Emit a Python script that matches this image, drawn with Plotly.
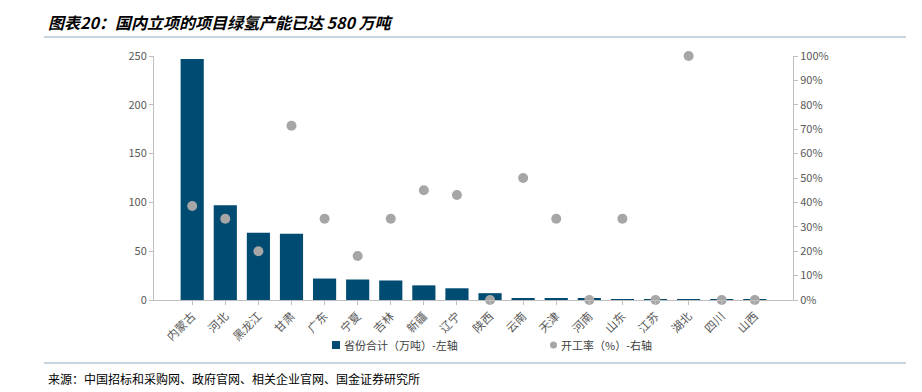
import plotly.graph_objects as go

provinces = ["内蒙古", "河北", "黑龙江", "甘肃", "广东", "宁夏", "吉林", "新疆", "辽宁",
             "陕西", "云南", "天津", "河南", "山东", "江苏", "湖北", "四川", "山西"]
capacity = [247, 97, 69, 68, 22, 21, 20, 15, 12, 7, 2, 2, 1.5, 0.8, 0.6, 0.5, 0.5, 0.5]
rate = [0.385, 0.333, 0.20, 0.714, 0.333, 0.18, 0.333, 0.45, 0.43, 0.0, 0.50, 0.333,
        0.0, 0.333, 0.0, 1.0, 0.0, 0.0]
left_ticks = [0, 50, 100, 150, 200, 250]
right_ticks = [0, 0.1, 0.2, 0.3, 0.4, 0.5, 0.6, 0.7, 0.8, 0.9, 1.0]
bar_name = "省份合计（万吨）-左轴"
dot_name = "开工率（%）-右轴"

FONT = "Noto Sans CJK SC"
OFF = 8  # page body margin
W, H = 922 - OFF, 392 - OFF
# plot-area edges in screen pixels (reference)
L, R, T, B = 154 - OFF, 793 - OFF, 56 - OFF, 300 - OFF
pw, ph = R - L, B - T
BAR_COLOR = "#004B71"
DOT_COLOR = "#A6A6A6"

def px(x):
    return (x - OFF - L) / pw

def py(y):
    return (B - (y - OFF)) / ph

fig = go.Figure()
fig.add_trace(go.Bar(
    x=provinces, y=capacity, name=bar_name,
    marker=dict(color=BAR_COLOR, line=dict(width=0)), width=0.7, yaxis="y",
))
fig.add_trace(go.Scatter(
    x=provinces, y=rate, name=dot_name, mode="markers",
    marker=dict(color=DOT_COLOR, size=10), yaxis="y2", cliponaxis=False,
))

axis_color = "#BFBFBF"
tick_font = dict(family=FONT, size=11, color="#595959")
cat_font = dict(family=FONT, size=11.5, color="#595959")
leg_font = dict(family=FONT, size=11, color="#404040")
line_color = "#8EA9C1"

shapes = [
    dict(type="line", xref="paper", yref="paper", x0=px(44), x1=px(906),
         y0=py(37), y1=py(37), line=dict(color=line_color, width=1)),
    dict(type="line", xref="paper", yref="paper", x0=px(44), x1=px(906),
         y0=py(363), y1=py(363), line=dict(color=line_color, width=1)),
    # legend symbols
    dict(type="rect", xref="paper", yref="paper", x0=px(332), x1=px(340),
         y0=py(349), y1=py(341), fillcolor=BAR_COLOR, line=dict(width=0)),
    dict(type="circle", xref="paper", yref="paper", x0=px(550), x1=px(557),
         y0=py(348.5), y1=py(341.5), fillcolor=DOT_COLOR, line=dict(width=0)),
]

annotations = [
    dict(text="<b><i>图表20：国内立项的项目绿氢产能已达 580 万吨</i></b>", xref="paper",
         yref="paper", x=px(46), y=py(22), xanchor="left", yanchor="middle",
         showarrow=False, font=dict(family=FONT, size=16, color="#000000")),
    dict(text="来源：中国招标和采购网、政府官网、相关企业官网、国金证券研究所", xref="paper",
         yref="paper", x=px(46), y=py(378), xanchor="left", yanchor="middle",
         showarrow=False, font=dict(family=FONT, size=12, color="#000000")),
    dict(text=bar_name, xref="paper", yref="paper", x=px(342), y=py(345),
         xanchor="left", yanchor="middle", showarrow=False, font=leg_font),
    dict(text=dot_name, xref="paper", yref="paper", x=px(559), y=py(345),
         xanchor="left", yanchor="middle", showarrow=False, font=leg_font),
]

fig.update_layout(
    width=W, height=H,
    margin=dict(l=L, r=W - R, t=T, b=H - B, pad=0, autoexpand=False),
    plot_bgcolor="white", paper_bgcolor="white",
    showlegend=False,
    xaxis=dict(showline=True, linecolor=axis_color, linewidth=1, ticks="outside",
               tickcolor=axis_color, ticklen=4, tickangle=-45, tickfont=cat_font,
               showgrid=False, zeroline=False, automargin=False),
    yaxis=dict(range=[0, 250], tickvals=left_ticks, showline=True, linecolor=axis_color,
               ticks="outside", tickcolor=axis_color, ticklen=4, tickfont=tick_font,
               showgrid=False, zeroline=False, automargin=False),
    yaxis2=dict(range=[0, 1], tickvals=right_ticks, tickformat=".0%", overlaying="y",
                side="right", showline=True, linecolor=axis_color, ticks="outside",
                tickcolor=axis_color, ticklen=4, tickfont=tick_font,
                showgrid=False, zeroline=False, automargin=False),
    annotations=annotations,
    shapes=shapes,
)

fig.write_html("out.html")
